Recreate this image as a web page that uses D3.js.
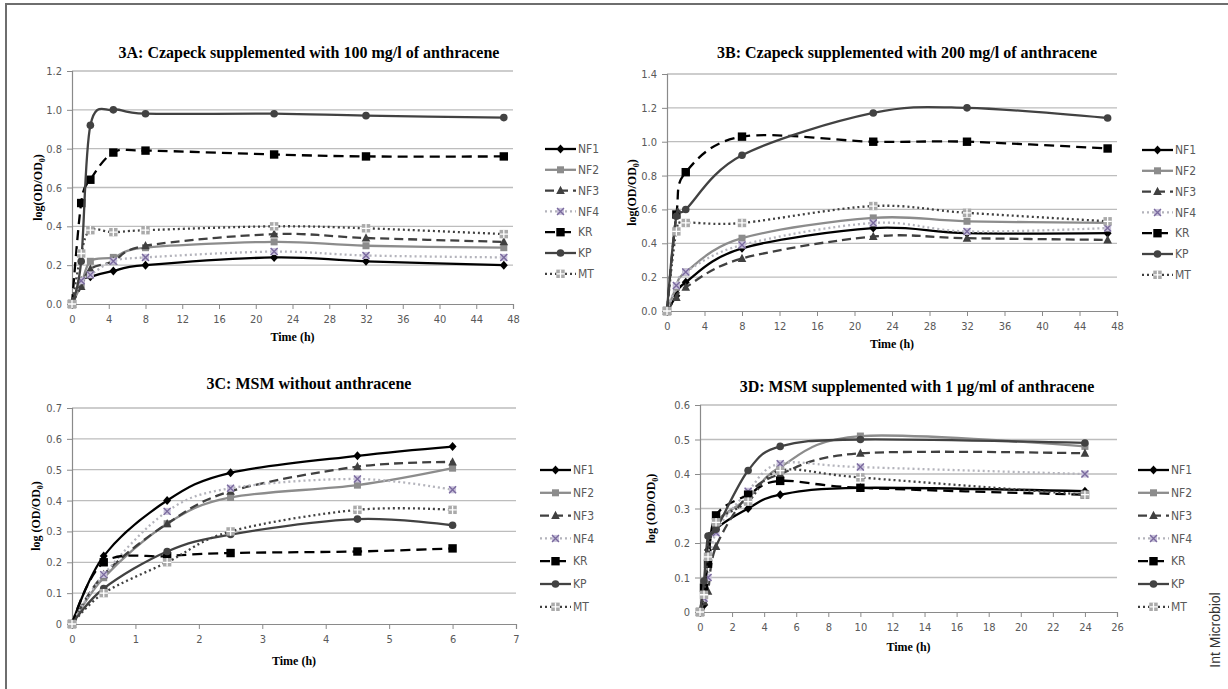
<!DOCTYPE html>
<html>
<head>
<meta charset="utf-8">
<script src="https://cdn.jsdelivr.net/npm/d3@7"></script>
<style>
  body { margin: 0; background: #fff; }
  svg { display: block; }
</style>
</head>
<body>
<svg id="fig" width="1228" height="689"></svg>
<script>
// series names, same order in every panel
const seriesNames = ['NF1', 'NF2', 'NF3', 'NF4', 'KR', 'KP', 'MT'];

// 3A: Czapeck + 100 mg/l
const timesA = [0, 1, 2, 4.5, 8, 22, 32, 47];
const valuesA = [
  [0, 0.12, 0.14, 0.17, 0.20, 0.24, 0.22, 0.20],
  [0, 0.10, 0.22, 0.24, 0.29, 0.32, 0.30, 0.29],
  [0, 0.09, 0.18, 0.22, 0.30, 0.36, 0.34, 0.32],
  [0, 0.12, 0.15, 0.22, 0.24, 0.27, 0.25, 0.24],
  [0, 0.52, 0.64, 0.78, 0.79, 0.77, 0.76, 0.76],
  [0, 0.22, 0.92, 1.00, 0.98, 0.98, 0.97, 0.96],
  [0, 0.26, 0.38, 0.37, 0.38, 0.40, 0.39, 0.36]
];

// 3B: Czapeck + 200 mg/l
const timesB = [0, 1, 2, 8, 22, 32, 47];
const valuesB = [
  [0, 0.09, 0.17, 0.37, 0.49, 0.46, 0.46],
  [0, 0.14, 0.23, 0.43, 0.55, 0.53, 0.52],
  [0, 0.08, 0.14, 0.31, 0.44, 0.43, 0.42],
  [0, 0.15, 0.23, 0.39, 0.52, 0.47, 0.49],
  [0, 0.57, 0.82, 1.03, 1.00, 1.00, 0.96],
  [0, 0.56, 0.60, 0.92, 1.17, 1.20, 1.14],
  [0, 0.47, 0.52, 0.52, 0.62, 0.58, 0.53]
];

// 3C: MSM without anthracene
const timesC = [0, 0.5, 1.5, 2.5, 4.5, 6];
const valuesC = [
  [0, 0.22, 0.40, 0.49, 0.545, 0.575],
  [0, 0.15, 0.325, 0.41, 0.45, 0.505],
  [0, 0.16, 0.325, 0.43, 0.51, 0.525],
  [0, 0.16, 0.365, 0.44, 0.47, 0.435],
  [0, 0.20, 0.22, 0.23, 0.235, 0.245],
  [0, 0.115, 0.235, 0.29, 0.34, 0.32],
  [0, 0.10, 0.20, 0.30, 0.37, 0.37]
];

// 3D: MSM + 1 ug/ml
const timesD = [0, 0.25, 0.5, 1, 3, 5, 10, 24];
const valuesD = [
  [0, 0.02, 0.18, 0.24, 0.30, 0.34, 0.36, 0.35],
  [0, 0.06, 0.16, 0.26, 0.33, 0.42, 0.51, 0.48],
  [0, 0.03, 0.06, 0.19, 0.34, 0.40, 0.46, 0.46],
  [0, 0.04, 0.10, 0.23, 0.35, 0.43, 0.42, 0.40],
  [0, 0.07, 0.14, 0.28, 0.34, 0.38, 0.36, 0.34],
  [0, 0.09, 0.22, 0.24, 0.41, 0.48, 0.50, 0.49],
  [0, 0.05, 0.16, 0.26, 0.32, 0.41, 0.39, 0.34]
];

const styles = {
  NF1: { color: '#000000', dash: null, marker: 'diamond', fill: '#000000' },
  NF2: { color: '#8c8c8c', dash: null, marker: 'square', fill: '#8c8c8c' },
  NF3: { color: '#404040', dash: '9,5', marker: 'triangle', fill: '#404040' },
  NF4: { color: '#b4b4bc', dash: '2,3', marker: 'cross', fill: '#c9c2da' },
  KR: { color: '#000000', dash: '10,6', marker: 'bigsquare', fill: '#000000' },
  KP: { color: '#424242', dash: null, marker: 'circle', fill: '#424242' },
  MT: { color: '#404040', dash: '2,3', marker: 'plus', fill: '#aaaaaa' }
};

const svg = d3.select('#fig');
const tickFont = '"DejaVu Sans Condensed", "Liberation Sans", sans-serif';
const serif = '"Liberation Serif", "DejaVu Serif", serif';

// frame of the figure
svg.append('line').attr('x1', 5).attr('x2', 1228).attr('y1', 4).attr('y2', 4)
  .attr('stroke', '#6e6e6e').attr('stroke-width', 2);
svg.append('line').attr('x1', 6).attr('x2', 6).attr('y1', 4).attr('y2', 689)
  .attr('stroke', '#6e6e6e').attr('stroke-width', 2);

function marker(g, type, x, y, st) {
  if (type === 'diamond') {
    g.append('path').attr('d', `M${x},${y - 4.5}L${x + 4},${y}L${x},${y + 4.5}L${x - 4},${y}Z`).attr('fill', st.fill);
  } else if (type === 'square') {
    g.append('rect').attr('x', x - 3.5).attr('y', y - 3.5).attr('width', 7).attr('height', 7).attr('fill', st.fill);
  } else if (type === 'bigsquare') {
    g.append('rect').attr('x', x - 4.2).attr('y', y - 4.2).attr('width', 8.4).attr('height', 8.4).attr('fill', st.fill);
  } else if (type === 'triangle') {
    g.append('path').attr('d', `M${x},${y - 4.8}L${x + 4.3},${y + 3.5}L${x - 4.3},${y + 3.5}Z`).attr('fill', st.fill);
  } else if (type === 'circle') {
    g.append('circle').attr('cx', x).attr('cy', y).attr('r', 3.8).attr('fill', st.fill);
  } else if (type === 'cross') {
    g.append('rect').attr('x', x - 3.5).attr('y', y - 3.5).attr('width', 7).attr('height', 7).attr('fill', st.fill);
    g.append('path').attr('d', `M${x - 3.5},${y - 3.5}L${x + 3.5},${y + 3.5}M${x + 3.5},${y - 3.5}L${x - 3.5},${y + 3.5}`)
      .attr('stroke', '#7a6a9e').attr('stroke-width', 1.4);
  } else if (type === 'plus') {
    g.append('rect').attr('x', x - 4.2).attr('y', y - 4.2).attr('width', 8.4).attr('height', 8.4).attr('fill', st.fill);
    g.append('path').attr('d', `M${x},${y - 4.2}V${y + 4.2}M${x - 4.2},${y}H${x + 4.2}`)
      .attr('stroke', '#ffffff').attr('stroke-width', 1.3);
  }
}

function panel(cfg) {
  const g = svg.append('g');
  const x = d3.scaleLinear().domain([0, cfg.xMax]).range([cfg.left, cfg.right]);
  const y = d3.scaleLinear().domain([0, cfg.yMax]).range([cfg.bottom, cfg.top]);
  const yTicks = d3.range(0, cfg.yMax + 1e-9, cfg.yStep);
  const xTicks = d3.range(0, cfg.xMax + 1e-9, cfg.xStep);

  // gridlines
  g.selectAll('.grid').data(yTicks.slice(1)).join('line')
    .attr('x1', cfg.left).attr('x2', cfg.right)
    .attr('y1', d => y(d)).attr('y2', d => y(d))
    .attr('stroke', '#bdbdbd').attr('stroke-width', 1.3);

  // axes
  const xAxis = d3.axisBottom(x).tickValues(xTicks).tickSize(5).tickPadding(6).tickFormat(d3.format('d'));
  const yAxis = d3.axisLeft(y).tickValues(yTicks).tickSize(5).tickPadding(5).tickFormat(d3.format(cfg.yFmt));
  const ga = g.append('g').attr('transform', `translate(0,${cfg.bottom})`).call(xAxis);
  const gy = g.append('g').attr('transform', `translate(${cfg.left},0)`).call(yAxis);
  [ga, gy].forEach(a => {
    a.select('.domain').attr('stroke', '#8a8a8a').attr('stroke-width', 1.2);
    a.selectAll('.tick line').attr('stroke', '#8a8a8a');
    a.selectAll('text').attr('fill', '#595959').style('font-family', tickFont).style('font-size', '11px');
  });

  // lines
  const line = d3.line().x(d => x(d[0])).y(d => y(d[1])).curve(d3.curveCardinal.tension(0));
  seriesNames.forEach((name, i) => {
    const st = styles[name];
    const pts = cfg.times.map((t, j) => [t, cfg.values[i][j]]);
    g.append('path').datum(pts).attr('d', line)
      .attr('fill', 'none').attr('stroke', st.color).attr('stroke-width', 2.3)
      .attr('stroke-dasharray', st.dash);
    const mg = g.append('g');
    pts.forEach(p => marker(mg, st.marker, x(p[0]), y(p[1]), st));
  });

  // legend
  seriesNames.forEach((name, i) => {
    const st = styles[name];
    const ly = cfg.legY + i * cfg.legStep;
    g.append('line').attr('x1', cfg.legX).attr('x2', cfg.legX + 31).attr('y1', ly).attr('y2', ly)
      .attr('stroke', st.color).attr('stroke-width', 2.3).attr('stroke-dasharray', st.dash);
    marker(g, st.marker, cfg.legX + 15.5, ly, st);
    g.append('text').attr('x', cfg.legX + 33).attr('y', ly).attr('dy', '0.35em')
      .attr('fill', '#595959').style('font-family', tickFont).style('font-size', '12px').text(name);
  });

  // title
  g.append('text').attr('x', cfg.titleX).attr('y', cfg.titleY).attr('text-anchor', 'middle').attr('dy', '0.35em')
    .style('font-family', serif).style('font-weight', 'bold').style('font-size', '16px').text(cfg.title);

  // axis titles
  g.append('text').attr('x', (cfg.left + cfg.right) / 2).attr('y', cfg.xlabY).attr('text-anchor', 'middle')
    .attr('dy', '0.35em').style('font-family', serif).style('font-weight', 'bold').style('font-size', '12px')
    .text('Time (h)');
  const yl = g.append('text')
    .attr('transform', `translate(${cfg.ylabX},${(cfg.top + cfg.bottom) / 2}) rotate(-90)`)
    .attr('text-anchor', 'middle').attr('dy', '0.35em')
    .style('font-family', serif).style('font-weight', 'bold').style('font-size', '12px');
  yl.append('tspan').text(cfg.ylabPre + 'OD/OD');
  yl.append('tspan').attr('dy', '3').style('font-size', '8px').text('0');
  yl.append('tspan').attr('dy', '-3').text(')');
}

panel({
  title: '3A: Czapeck supplemented with 100 mg/l of anthracene', titleX: 309, titleY: 52,
  left: 72, right: 513, top: 71, bottom: 304, xMax: 48, xStep: 4, yMax: 1.2, yStep: 0.2, yFmt: '.1f',
  times: timesA, values: valuesA, legX: 545, legY: 149, legStep: 20.8,
  xlabY: 337, ylabX: 38, ylabPre: 'log('
});
panel({
  title: '3B: Czapeck supplemented with 200 mg/l of anthracene', titleX: 907, titleY: 52,
  left: 667, right: 1117, top: 74, bottom: 311, xMax: 48, xStep: 4, yMax: 1.4, yStep: 0.2, yFmt: '.1f',
  times: timesB, values: valuesB, legX: 1142, legY: 150, legStep: 20.8,
  xlabY: 344, ylabX: 632, ylabPre: 'log('
});
panel({
  title: '3C: MSM without anthracene', titleX: 309, titleY: 383,
  left: 72, right: 516, top: 408, bottom: 624, xMax: 7, xStep: 1, yMax: 0.7, yStep: 0.1, yFmt: '~g',
  times: timesC, values: valuesC, legX: 540, legY: 470, legStep: 22.8,
  xlabY: 661, ylabX: 36, ylabPre: 'log ('
});
panel({
  title: '3D: MSM supplemented with 1 \u00b5g/ml of anthracene', titleX: 917, titleY: 386,
  left: 700, right: 1117, top: 405, bottom: 612, xMax: 26, xStep: 2, yMax: 0.6, yStep: 0.1, yFmt: '~g',
  times: timesD, values: valuesD, legX: 1138, legY: 470, legStep: 22.8,
  xlabY: 647, ylabX: 651, ylabPre: 'log ('
});

// journal tag
svg.append('text').attr('transform', 'translate(1215,630) rotate(-90)').attr('text-anchor', 'middle')
  .attr('dy', '0.35em').attr('fill', '#333').style('font-family', '"Liberation Sans", Arial, sans-serif')
  .style('font-size', '14px').text('Int Microbiol');
</script>
</body>
</html>
